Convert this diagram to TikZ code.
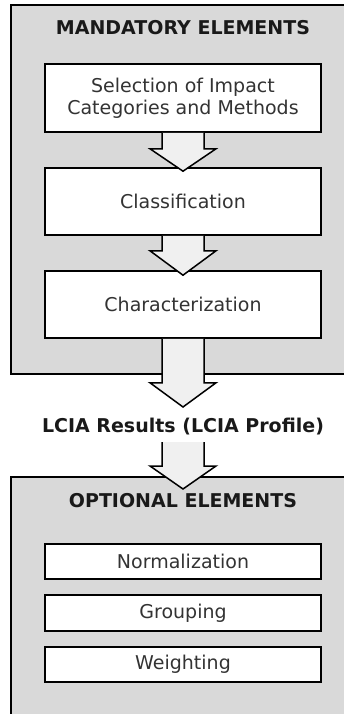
\documentclass[tikz,border=0pt]{standalone}
\usepackage{fontspec}
\setmainfont{DejaVu Sans}
\usetikzlibrary{calc}
\definecolor{panelgray}{HTML}{D9D9D9}
\definecolor{arrowfill}{HTML}{F0F0F0}
\begin{document}
\begin{tikzpicture}[x=1pt,y=-1pt,
  panel/.style={draw=black,line width=1.6pt,fill=panelgray,anchor=north west,inner sep=0pt},
  stepbox/.style={draw=black,line width=1.6pt,fill=white,minimum width=276pt,inner sep=0pt,align=center,text=black!80,font=\fontsize{19}{22}\selectfont},
  title/.style={font=\bfseries\fontsize{19}{22}\selectfont,text=black!90},
  barrow/.style={draw=black,line width=1.5pt,fill=arrowfill,line join=miter}
]
\useasboundingbox (0,0) rectangle (344,714);
\clip (0,0) rectangle (344,714);
% panels
\node[panel,minimum width=345pt,minimum height=369pt] (mand) at (10,4) {};
\node[panel,minimum width=345pt,minimum height=250pt] (opt) at (10,476) {};
\node[title] (mtitle) at (183,28) {MANDATORY ELEMENTS};
\node[title] (otitle) at (183,501) {OPTIONAL ELEMENTS};
% mandatory steps
\node[stepbox,minimum height=68pt] (sel) at (183,98) {Selection of Impact\\Categories and Methods};
\node[stepbox,minimum height=67pt] (cls) at (183,201.5) {Classification};
\node[stepbox,minimum height=67pt] (chr) at (183,304.5) {Characterization};
% result
\node[title] (res) at (183,427) {LCIA Results (LCIA Profile)};
\coordinate (resb) at (183,442);
\coordinate (tip3) at (183,407);
\coordinate (tip4) at (183,489);
% optional steps
\node[stepbox,minimum height=35pt] (nrm) at (183,561.5) {Normalization};
\node[stepbox,minimum height=36pt] (grp) at (183,613) {Grouping};
\node[stepbox,minimum height=35pt] (wgt) at (183,664.5) {Weighting};
% block arrows
\draw[barrow] ($(sel.south)+(-21,0)$) -- ($(sel.south)+(-21,16)$) -- ($(sel.south)+(-33,16)$)
  -- ($(cls.north)+(0,4)$) -- ($(sel.south)+(33,16)$) -- ($(sel.south)+(21,16)$) -- ($(sel.south)+(21,0)$);
\draw[barrow] ($(cls.south)+(-21,0)$) -- ($(cls.south)+(-21,15)$) -- ($(cls.south)+(-33,15)$)
  -- ($(chr.north)+(0,5)$) -- ($(cls.south)+(33,15)$) -- ($(cls.south)+(21,15)$) -- ($(cls.south)+(21,0)$);
\draw[barrow] ($(chr.south)+(-21,0)$) -- ($(chr.south)+(-21,44)$) -- ($(chr.south)+(-33,44)$)
  -- (tip3) -- ($(chr.south)+(33,44)$) -- ($(chr.south)+(21,44)$) -- ($(chr.south)+(21,0)$);
\draw[barrow] ($(resb)+(-21,0)$) -- ($(resb)+(-21,24)$) -- ($(resb)+(-33,24)$)
  -- (tip4) -- ($(resb)+(33,24)$) -- ($(resb)+(21,24)$) -- ($(resb)+(21,0)$);
\end{tikzpicture}
\end{document}
